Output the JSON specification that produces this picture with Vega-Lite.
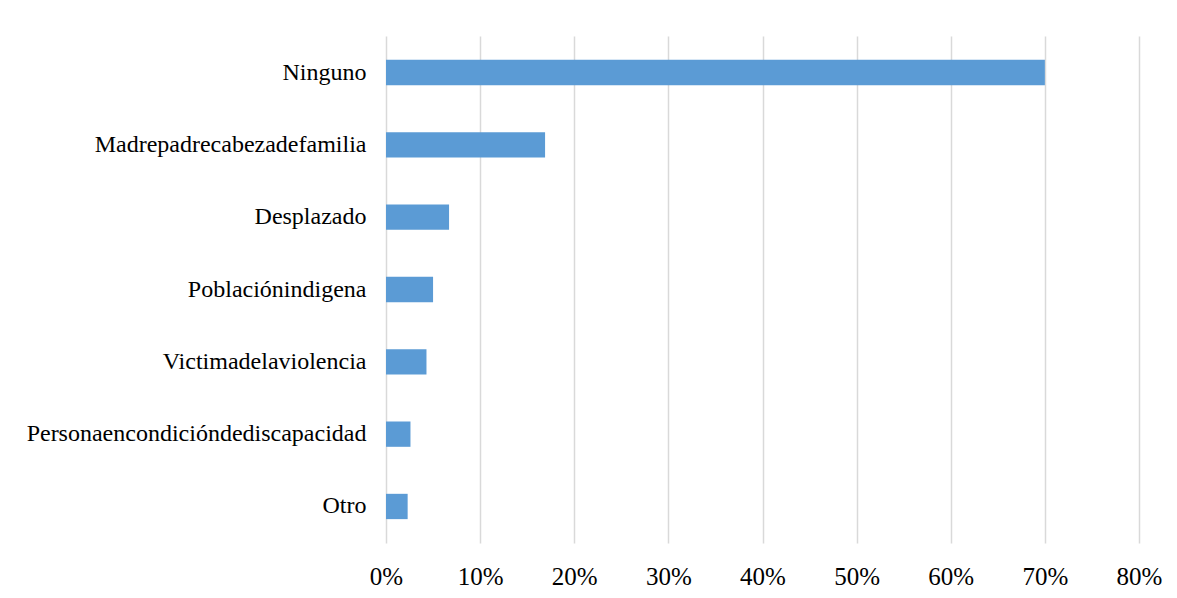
{
  "$schema": "https://vega.github.io/schema/vega-lite/v6.json",
  "width": 753,
  "height": 507,
  "autosize": {"type": "none"},
  "padding": {"left": 386, "top": 36, "right": 38, "bottom": 55},
  "background": "white",
  "data": {
    "values": [
      {"categoria": "Ninguno", "porcentaje": 0.70},
      {"categoria": "Madrepadrecabezadefamilia", "porcentaje": 0.169},
      {"categoria": "Desplazado", "porcentaje": 0.067},
      {"categoria": "Poblaciónindigena", "porcentaje": 0.050},
      {"categoria": "Victimadelaviolencia", "porcentaje": 0.043},
      {"categoria": "Personaencondicióndediscapacidad", "porcentaje": 0.026},
      {"categoria": "Otro", "porcentaje": 0.023}
    ]
  },
  "mark": {"type": "bar", "color": "#5b9bd5"},
  "encoding": {
    "y": {
      "field": "categoria",
      "type": "nominal",
      "sort": null,
      "scale": {"paddingInner": 0.65, "paddingOuter": 0.33},
      "axis": {
        "title": null,
        "ticks": false,
        "domain": false,
        "grid": false,
        "labelFont": "Liberation Serif",
        "labelFontSize": 24,
        "labelColor": "#000000",
        "labelPadding": 20,
        "labelLimit": 400
      }
    },
    "x": {
      "field": "porcentaje",
      "type": "quantitative",
      "scale": {"domain": [0, 0.8], "nice": false},
      "axis": {
        "title": null,
        "format": ".0%",
        "values": [0, 0.1, 0.2, 0.3, 0.4, 0.5, 0.6, 0.7, 0.8],
        "ticks": false,
        "domain": false,
        "grid": true,
        "gridColor": "#d9d9d9",
        "gridWidth": 1.5,
        "labelFlush": false,
        "labelFont": "Liberation Serif",
        "labelFontSize": 25,
        "labelColor": "#000000",
        "labelPadding": 21
      }
    }
  },
  "config": {"view": {"stroke": null}}
}
